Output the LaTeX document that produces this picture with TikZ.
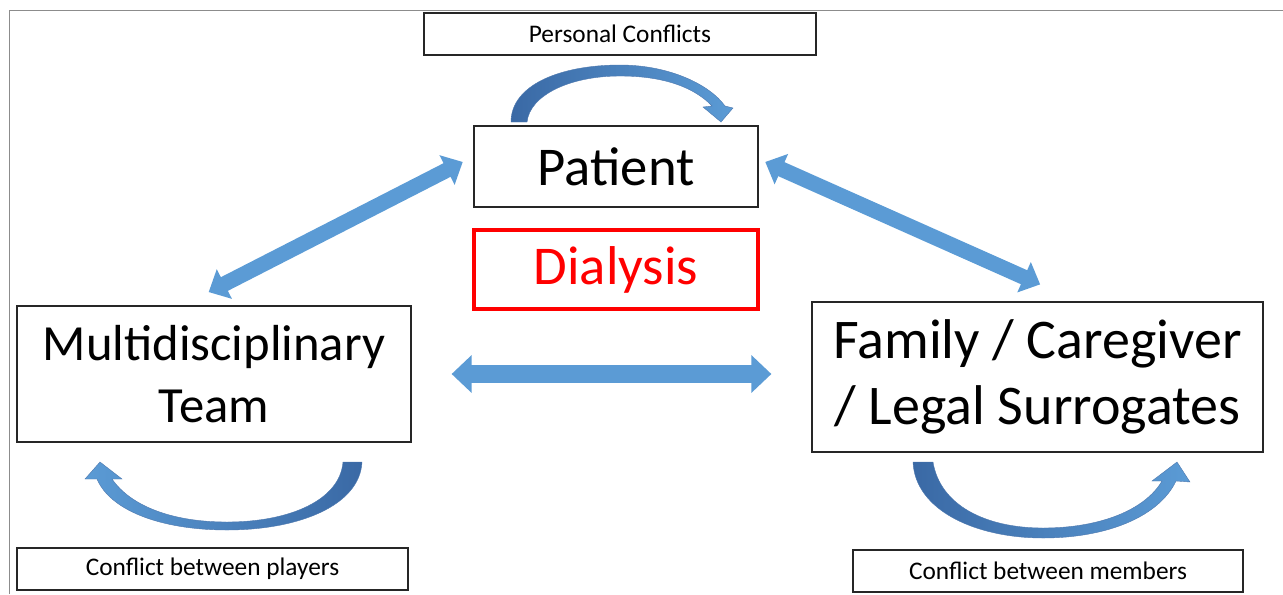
\documentclass[tikz,border=0pt]{standalone}
\usepackage{fontspec}
\setmainfont{Carlito}
\usetikzlibrary{arrows.meta,calc}
\definecolor{arrowblue}{RGB}{91,155,213}
\definecolor{arrowdark}{RGB}{58,105,165}
\definecolor{framegray}{RGB}{140,140,140}

\begin{document}
\begin{tikzpicture}[x=0.75pt, y=-0.75pt,
    box/.style={draw=black!85, line width=0.9pt, inner sep=0pt, align=center},
    bigbox/.style={box, font=\fontsize{41}{49}\selectfont},
    smallbox/.style={box, minimum height=31.5pt, font=\fontsize{19}{23}\selectfont},
    dblarrow/.style={arrowblue, line width=#1,
      {Triangle[width=0pt 2.1, length=0pt 1.15]}-{Triangle[width=0pt 2.1, length=0pt 1.15]}},
    curly/.style={draw=arrowdark!90, line width=0.3pt}]
  \useasboundingbox (0,0) rectangle (1283,594);
  % frame of the slide
  \draw[framegray, line width=1.1pt] (9.5,594) -- (9.5,10.5) -- (1283,10.5);

  % boxes
  \node[smallbox, minimum width=294pt] (conflicts) at (620,34) {Personal Conflicts};
  \node[bigbox, minimum width=213pt, minimum height=60.75pt] (patient) at (616,166.5) {Patient};
  \node[bigbox, draw=red, text=red, line width=2.6pt, minimum width=213pt, minimum height=59pt] (dialysis) at (616,269.5) {Dialysis};
  \node[bigbox, font=\fontsize{38}{46.5}\selectfont, minimum width=295.5pt, minimum height=102pt] (team) at (214,374) {Multidisciplinary\\Team};
  \node[bigbox, font=\fontsize{42}{49}\selectfont, minimum width=338.25pt, minimum height=112.5pt] (family) at (1037.5,377) {Family / Caregiver\\/ Legal Surrogates};
  \node[smallbox, minimum width=293.25pt] (players) at (212.5,569) {Conflict between players};
  \node[smallbox, minimum width=292.5pt] (members) at (1048,571) {Conflict between members};

  % straight arrows
  \draw[dblarrow=11.5pt] ([xshift=-4pt,yshift=10pt]team.north) -- ([xshift=-8pt,yshift=3.4pt]patient.west);
  \draw[dblarrow=11.5pt] ([xshift=5pt,yshift=3.4pt]patient.east) -- ([xshift=2pt,yshift=12.75pt]family.north);
  \draw[dblarrow=13pt] ([xshift=30pt]team.east) -- ($(team.east -| family.west)+(-40,0)$);

  % curved arrows
  \shade[curly, left color=arrowdark, right color=arrowblue]
    (511,122) .. controls (511,85) and (560,65) .. (620,65)
    .. controls (670,65) and (710,85) .. (725,106)
    -- (733,108) -- (721,122) -- (703,107) -- (712,106)
    .. controls (695,88) and (665,76) .. (620,76)
    .. controls (570,76) and (530,95) .. (527,122) -- cycle;
  \shade[curly, left color=arrowblue, right color=arrowdark]
    (362,462) .. controls (360,505) and (300,530) .. (227,530)
    .. controls (160,530) and (110,510) .. (97,479)
    -- (85,479) -- (100,462) -- (122,479) -- (112,479)
    .. controls (130,505) and (170,522) .. (227,522)
    .. controls (290,522) and (340,500) .. (343,462) -- cycle;
  \shade[curly, left color=arrowdark, right color=arrowblue]
    (913,462) .. controls (915,510) and (975,538) .. (1043,538)
    .. controls (1110,538) and (1160,515) .. (1176,481)
    -- (1190,482) -- (1177,462) -- (1152,481) -- (1162,481)
    .. controls (1145,510) and (1100,528) .. (1043,528)
    .. controls (985,528) and (940,505) .. (933,462) -- cycle;
\end{tikzpicture}
\end{document}
